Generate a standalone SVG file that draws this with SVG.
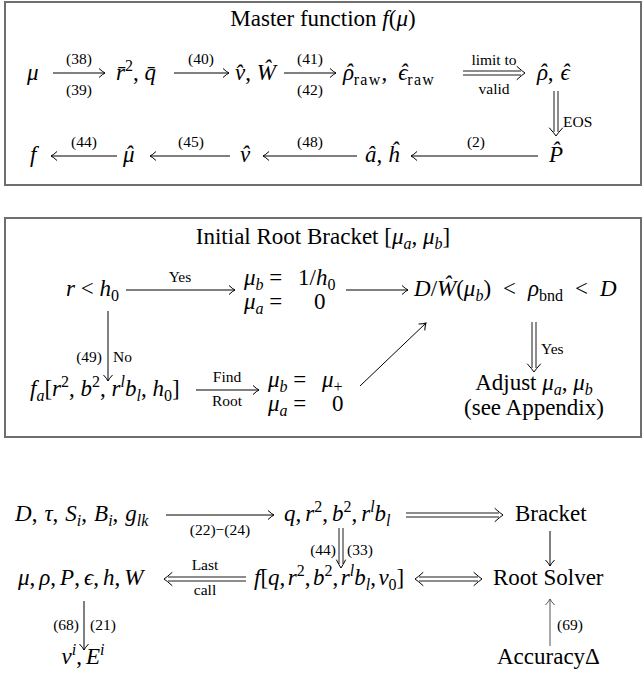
<svg xmlns="http://www.w3.org/2000/svg" width="644" height="679" viewBox="0 0 644 679">
<style>
.t{font-family:"Liberation Serif","DejaVu Serif",serif;font-size:23px;fill:#000}
.i{font-style:italic}
.sm{font-size:16px}
.raw{font-size:16px;letter-spacing:1.3px}
.lb{font-family:"Liberation Serif","DejaVu Serif",serif;font-size:15.5px;fill:#000}
.box{fill:none;stroke:#6e6e6e;stroke-width:2}
.ln{fill:none;stroke:#000;stroke-width:1}
.hd{fill:none;stroke:#000;stroke-width:1;stroke-linecap:round}
.dl{fill:none;stroke:#000;stroke-width:0.9}
</style>
<defs>
<marker id="arr" markerUnits="userSpaceOnUse" markerWidth="14" markerHeight="14" viewBox="-8 -7 10 14" refX="0" refY="0" orient="auto">
<path d="M-6,-4.5 Q-2.5,-1.2 0,0 Q-2.5,1.2 -6,4.5" fill="none" stroke="#000" stroke-width="1"/>
</marker>
<marker id="arrg" markerUnits="userSpaceOnUse" markerWidth="14" markerHeight="14" viewBox="-8 -7 10 14" refX="0" refY="0" orient="auto">
<path d="M-6,-4.5 Q-2.5,-1.2 0,0 Q-2.5,1.2 -6,4.5" fill="none" stroke="#555" stroke-width="1"/>
</marker>
</defs>

<!-- Box 1 -->
<g id="box-master">
<rect class="box" x="5" y="2" width="636" height="183"/>
<text class="t" x="323" y="26" text-anchor="middle">Master function <tspan class="i">f</tspan>(<tspan class="i">μ</tspan>)</text>
</g>
<g id="n-mu"><text class="t i" x="27" y="80">μ</text></g>
<g id="n-rq"><text class="t" x="116" y="80"><tspan class="i">r̄</tspan><tspan class="sm" dy="-9">2</tspan><tspan dy="9">, </tspan><tspan class="i">q̄</tspan></text></g>
<g id="n-vW"><text class="t" x="235" y="80"><tspan class="i">v̂</tspan>, <tspan class="i">Ŵ</tspan></text></g>
<g id="n-raw"><text class="t" x="343" y="80"><tspan class="i">ρ</tspan><tspan class="i" dx="-9">ˆ</tspan><tspan class="raw" dx="1" dy="5">raw</tspan><tspan dy="-5">,</tspan><tspan class="i" dx="11">ϵ</tspan><tspan class="i" dx="-8">ˆ</tspan><tspan class="raw" dy="5">raw</tspan></text></g>
<g id="n-rhoeps"><text class="t" x="537" y="80"><tspan class="i">ρ</tspan><tspan class="i" dx="-9">ˆ</tspan><tspan dx="1">,</tspan><tspan class="i" dx="7">ϵ</tspan><tspan class="i" dx="-8">ˆ</tspan></text></g>
<g id="n-P"><text class="t i" x="549" y="162">P̂</text></g>
<g id="n-ah"><text class="t" x="365" y="162"><tspan class="i">â</tspan>, <tspan class="i">ĥ</tspan></text></g>
<g id="n-nu"><text class="t" x="240" y="162"><tspan class="i">ν</tspan><tspan class="i" dx="-9">ˆ</tspan></text></g>
<g id="n-muhat"><text class="t" x="123" y="162"><tspan class="i">μ</tspan><tspan class="i" dx="-9.5">ˆ</tspan></text></g>
<g id="n-f"><text class="t i" x="30" y="162">f</text></g>

<!-- Box 2 -->
<g id="box-bracket">
<rect class="box" x="5" y="218" width="636" height="219"/>
<text class="t" x="323" y="244" text-anchor="middle">Initial Root Bracket [<tspan class="i">μ</tspan><tspan class="sm i" dy="5">a</tspan><tspan dy="-5">, </tspan><tspan class="i">μ</tspan><tspan class="sm i" dy="5">b</tspan><tspan dy="-5">]</tspan></text>
</g>
<g id="n-rh0"><text class="t" x="66" y="296"><tspan class="i">r</tspan> &lt; <tspan class="i">h</tspan><tspan class="sm" dy="5">0</tspan></text></g>
<g id="n-mub1"><text class="t" x="244" y="285"><tspan class="i">μ</tspan><tspan class="sm i" dy="5">b</tspan><tspan dy="-5"> =</tspan><tspan x="298">1/</tspan><tspan class="i">h</tspan><tspan class="sm" dy="5">0</tspan></text>
<text class="t" x="244" y="309"><tspan class="i">μ</tspan><tspan class="sm i" dy="5">a</tspan><tspan dy="-5"> =</tspan><tspan x="314">0</tspan></text></g>
<g id="n-DW"><text class="t" x="414" y="296"><tspan class="i">D</tspan>/<tspan class="i">Ŵ</tspan>(<tspan class="i">μ</tspan><tspan class="sm i" dy="5">b</tspan><tspan dy="-5">)</tspan><tspan dx="12">&lt;</tspan><tspan dx="12" class="i">ρ</tspan><tspan class="sm" dy="5">bnd</tspan><tspan dx="12" dy="-5">&lt;</tspan><tspan dx="12" class="i">D</tspan></text></g>
<g id="n-fa"><text class="t" x="30" y="396"><tspan class="i">f</tspan><tspan class="sm i" dy="5">a</tspan><tspan dy="-5">[</tspan><tspan class="i">r</tspan><tspan class="sm" dy="-9">2</tspan><tspan dy="9">, </tspan><tspan class="i">b</tspan><tspan class="sm" dy="-9">2</tspan><tspan dy="9">, </tspan><tspan class="i">r</tspan><tspan class="sm i" dy="-9">l</tspan><tspan class="i" dy="9">b</tspan><tspan class="sm i" dy="5">l</tspan><tspan dy="-5">, </tspan><tspan class="i">h</tspan><tspan class="sm" dy="5">0</tspan><tspan dy="-5">]</tspan></text></g>
<g id="n-mub2"><text class="t" x="268" y="387"><tspan class="i">μ</tspan><tspan class="sm i" dy="5">b</tspan><tspan dy="-5"> =</tspan><tspan class="i" x="322">μ</tspan><tspan class="sm" dy="5">+</tspan></text>
<text class="t" x="268" y="411"><tspan class="i">μ</tspan><tspan class="sm i" dy="5">a</tspan><tspan dy="-5"> =</tspan><tspan x="332">0</tspan></text></g>
<g id="n-adjust"><text class="t" x="534" y="390" text-anchor="middle">Adjust <tspan class="i">μ</tspan><tspan class="sm i" dy="5">a</tspan><tspan dy="-5">, </tspan><tspan class="i">μ</tspan><tspan class="sm i" dy="5">b</tspan></text>
<text class="t" x="534" y="415" text-anchor="middle">(see Appendix)</text></g>

<!-- Bottom section -->
<g id="n-inputs"><text class="t" x="15" y="521"><tspan class="i">D</tspan>,<tspan class="i" dx="7">τ</tspan>,<tspan class="i" dx="7">S</tspan><tspan class="sm i" dy="5">i</tspan><tspan dy="-5">,</tspan><tspan class="i" dx="7">B</tspan><tspan class="sm i" dy="5">i</tspan><tspan dy="-5">,</tspan><tspan class="i" dx="7">g</tspan><tspan class="sm i" dy="5">lk</tspan></text></g>
<g id="n-q"><text class="t" x="284" y="521"><tspan class="i">q</tspan>,<tspan class="i" dx="4">r</tspan><tspan class="sm" dy="-9">2</tspan><tspan dy="9">,</tspan><tspan class="i" dx="4">b</tspan><tspan class="sm" dy="-9">2</tspan><tspan dy="9">,</tspan><tspan class="i" dx="4">r</tspan><tspan class="sm i" dy="-9">l</tspan><tspan class="i" dy="9">b</tspan><tspan class="sm i" dy="5">l</tspan></text></g>
<g id="n-bracket"><text class="t" x="515" y="521">Bracket</text></g>
<g id="n-prim"><text class="t" x="18" y="585"><tspan class="i">μ</tspan>,<tspan class="i" dx="4">ρ</tspan>,<tspan class="i" dx="4">P</tspan>,<tspan class="i" dx="4">ϵ</tspan>,<tspan class="i" dx="4">h</tspan>,<tspan class="i" dx="4">W</tspan></text></g>
<g id="n-fq"><text class="t" x="254" y="585"><tspan class="i">f</tspan>[<tspan class="i">q</tspan>,<tspan class="i" dx="2.5">r</tspan><tspan class="sm" dy="-9">2</tspan><tspan dy="9">,</tspan><tspan class="i" dx="2.5">b</tspan><tspan class="sm" dy="-9">2</tspan><tspan dy="9">,</tspan><tspan class="i" dx="2.5">r</tspan><tspan class="sm i" dy="-9">l</tspan><tspan class="i" dy="9">b</tspan><tspan class="sm i" dy="5">l</tspan><tspan dy="-5">,</tspan><tspan class="i" dx="2.5">v</tspan><tspan class="sm" dy="5">0</tspan><tspan dy="-5">]</tspan></text></g>
<g id="n-solver"><text class="t" x="493" y="585">Root Solver</text></g>
<g id="n-vE"><text class="t" x="83" y="664" text-anchor="middle"><tspan class="i">v</tspan><tspan class="sm i" dy="-9">i</tspan><tspan dy="9">,</tspan><tspan class="i" dx="4">E</tspan><tspan class="sm i" dy="-9">i</tspan></text></g>
<g id="n-acc"><text class="t" x="497" y="664">AccuracyΔ</text></g>

<!-- Connectors -->
<g id="connectors">
<line class="ln" x1="53" y1="73" x2="105" y2="73" marker-end="url(#arr)"/>
<text class="lb" x="79" y="64" text-anchor="middle">(38)</text>
<text class="lb" x="79" y="95" text-anchor="middle">(39)</text>
<line class="ln" x1="174" y1="73" x2="229" y2="73" marker-end="url(#arr)"/>
<text class="lb" x="201" y="64" text-anchor="middle">(40)</text>
<line class="ln" x1="284" y1="73" x2="336" y2="73" marker-end="url(#arr)"/>
<text class="lb" x="310" y="64" text-anchor="middle">(41)</text>
<text class="lb" x="310" y="95" text-anchor="middle">(42)</text>
<path class="dl" d="M463,71 H521 M463,75 H521"/>
<path class="hd" d="M517,66.5 Q522,71 525,73 Q522,75 517,79.5"/>
<text class="lb" x="494" y="65" text-anchor="middle">limit to</text>
<text class="lb" x="494" y="94" text-anchor="middle">valid</text>
<path class="dl" d="M554,91 V132 M558,91 V132"/>
<path class="hd" d="M549.5,128 Q554,133 556,136 Q558,133 562.5,128"/>
<text class="lb" x="563" y="127">EOS</text>
<line class="ln" x1="538" y1="156" x2="411" y2="156" marker-end="url(#arr)"/>
<text class="lb" x="476" y="147" text-anchor="middle">(2)</text>
<line class="ln" x1="357" y1="156" x2="263" y2="156" marker-end="url(#arr)"/>
<text class="lb" x="310" y="147" text-anchor="middle">(48)</text>
<line class="ln" x1="230" y1="156" x2="150" y2="156" marker-end="url(#arr)"/>
<text class="lb" x="191" y="147" text-anchor="middle">(45)</text>
<line class="ln" x1="117" y1="156" x2="51" y2="156" marker-end="url(#arr)"/>
<text class="lb" x="84" y="147" text-anchor="middle">(44)</text>

<line class="ln" x1="126" y1="290" x2="235" y2="290" marker-end="url(#arr)"/>
<text class="lb" x="180" y="282" text-anchor="middle">Yes</text>
<line class="ln" x1="346" y1="290" x2="408" y2="290" marker-end="url(#arr)"/>
<line class="ln" x1="108" y1="311" x2="108" y2="381" marker-end="url(#arr)"/>
<text class="lb" x="102" y="362" text-anchor="end">(49)</text>
<text class="lb" x="113" y="362">No</text>
<line class="ln" x1="360" y1="386" x2="426" y2="323" marker-end="url(#arr)"/>
<line class="ln" x1="196" y1="390" x2="259" y2="390" marker-end="url(#arr)"/>
<text class="lb" x="227" y="382" text-anchor="middle">Find</text>
<text class="lb" x="227" y="406" text-anchor="middle">Root</text>
<path class="dl" d="M532,322 V368 M536,322 V368"/>
<path class="hd" d="M527.5,364 Q532,369 534,372 Q536,369 540.5,364"/>
<text class="lb" x="541" y="354">Yes</text>

<line class="ln" x1="166" y1="515" x2="274" y2="515" marker-end="url(#arr)"/>
<text class="lb" x="220" y="535" text-anchor="middle">(22)−(24)</text>
<path class="dl" d="M406,513 H499 M406,517 H499"/>
<path class="hd" d="M495,508.5 Q500,513 503,515 Q500,517 495,521.5"/>
<line class="ln" x1="550" y1="531" x2="550" y2="566" marker-end="url(#arr)"/>
<path class="dl" d="M339,528 V564 M343,528 V564"/>
<path class="hd" d="M336.5,560 Q339,565 341,568 Q343,565 345.5,560"/>
<text class="lb" x="336" y="555" text-anchor="end">(44)</text>
<text class="lb" x="347" y="555">(33)</text>
<path class="dl" d="M246,577 H168 M246,581 H168"/>
<path class="hd" d="M172,572.5 Q167,577 164,579 Q167,581 172,585.5"/>
<text class="lb" x="205" y="570" text-anchor="middle">Last</text>
<text class="lb" x="205" y="595" text-anchor="middle">call</text>
<path class="dl" d="M419,577 H478 M419,581 H478"/>
<path class="hd" d="M423,572.5 Q418,577 415,579 Q418,581 423,585.5 M474,572.5 Q479,577 482,579 Q479,581 474,585.5"/>
<line class="ln" x1="84" y1="601" x2="84" y2="650" marker-end="url(#arr)"/>
<text class="lb" x="79" y="630" text-anchor="end">(68)</text>
<text class="lb" x="90" y="630">(21)</text>
<line x1="550" y1="646" x2="550" y2="599" stroke="#555" stroke-width="1" marker-end="url(#arrg)"/>
<text class="lb" x="557" y="630">(69)</text>
</g>
</svg>
